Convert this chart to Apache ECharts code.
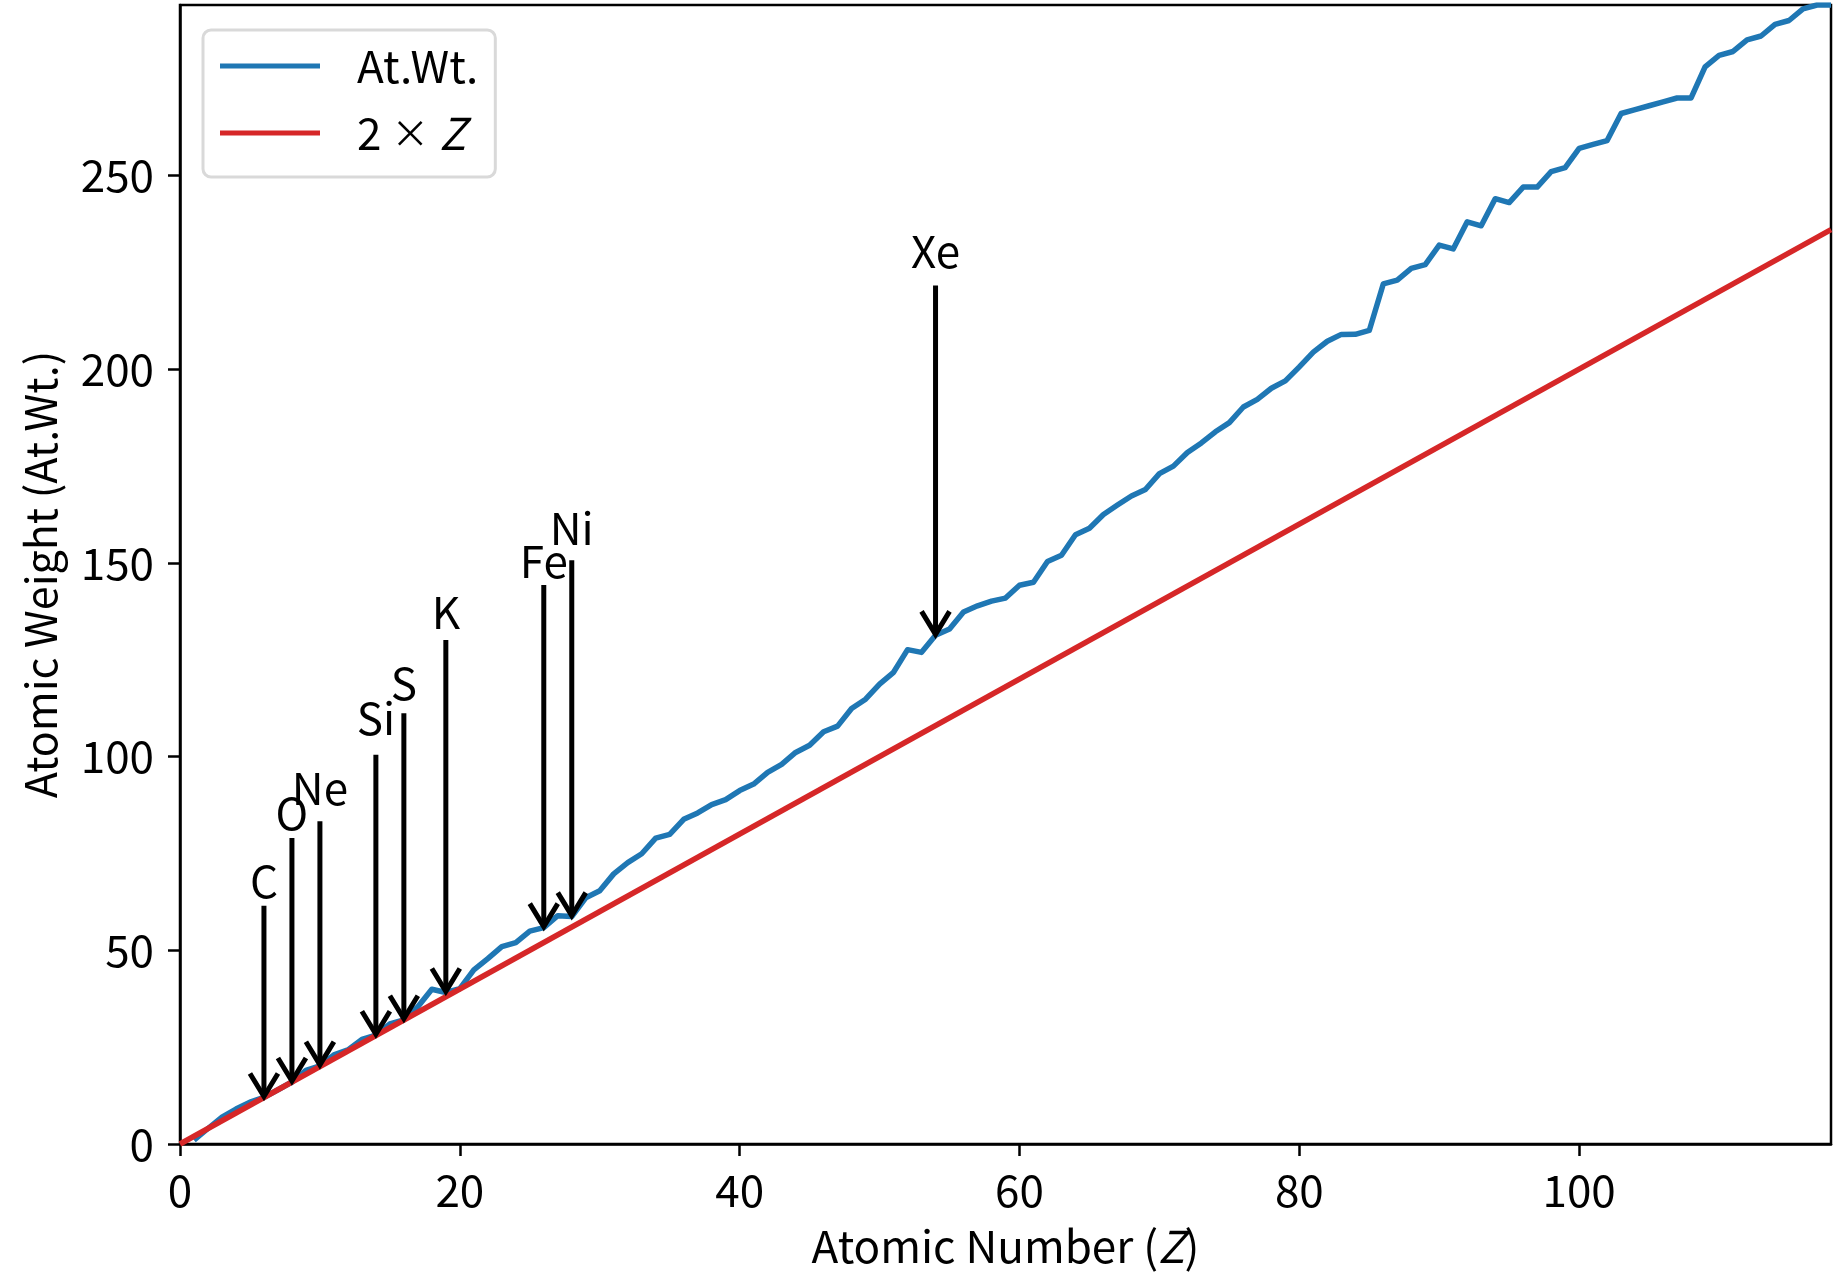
<!DOCTYPE html>
<html><head><meta charset="utf-8">
<script src="https://cdn.jsdelivr.net/npm/echarts@6/dist/echarts.min.js"></script>
<style>html,body{margin:0;padding:0;background:#fff}#c{width:1845px;height:1283px}</style>
</head><body><div id="c"></div>
<script>
// ---- data ----
const atomicNumbers = [1,2,3,4,5,6,7,8,9,10,11,12,13,14,15,16,17,18,19,20,21,22,23,24,25,26,27,28,29,30,31,32,33,34,35,36,37,38,39,40,41,42,43,44,45,46,47,48,49,50,51,52,53,54,55,56,57,58,59,60,61,62,63,64,65,66,67,68,69,70,71,72,73,74,75,76,77,78,79,80,81,82,83,84,85,86,87,88,89,90,91,92,93,94,95,96,97,98,99,100,101,102,103,104,105,106,107,108,109,110,111,112,113,114,115,116,117,118];
const atomicWeights = [1.008,4.0026,6.94,9.0122,10.81,12.011,14.007,15.999,18.998,20.180,22.990,24.305,26.982,28.085,30.974,32.06,35.45,39.948,39.098,40.078,44.956,47.867,50.942,51.996,54.938,55.845,58.933,58.693,63.546,65.38,69.723,72.630,74.922,78.971,79.904,83.798,85.468,87.62,88.906,91.224,92.906,95.95,98,101.07,102.91,106.42,107.87,112.41,114.82,118.71,121.76,127.60,126.90,131.29,132.91,137.33,138.91,140.12,140.91,144.24,145,150.36,151.96,157.25,158.93,162.50,164.93,167.26,168.93,173.05,174.97,178.49,180.95,183.84,186.21,190.23,192.22,195.08,196.97,200.59,204.38,207.2,208.98,209,210,222,223,226,227,232.04,231.04,238.03,237,244,243,247,247,251,252,257,258,259,266,267,268,269,270,270,278,281,282,285,286,289,290,293,294,294];
const twoZ_Z = [0, 118];
const twoZ_values = [0, 236];
const xTicks = [0,20,40,60,80,100];
const yTicks = [0,50,100,150,200,250];
const annotNames = ['C','O','Ne','Si','S','K','Fe','Ni','Xe'];
const annotZ = [6,8,10,14,16,19,26,28,54];
const annotTip = [12.011,15.999,20.180,28.085,32.06,39.098,55.845,58.693,131.29];
const annotTail = [61.5,79.0,83.3,100.5,111.2,130.1,144.3,150.7,221.6];
const annotText = [63.7,81.3,87.7,105.7,114.7,133.0,146.4,154.7,226.2];

// ---- chart ----
const FONT = '"Noto Sans CJK JP", "Noto Sans", sans-serif';
const FS = 44;
const chart = echarts.init(document.getElementById('c'), null, {renderer:'canvas'});
const blueData = atomicNumbers.map((z,i)=>[z, atomicWeights[i]]);
const redData = twoZ_Z.map((z,i)=>[z, twoZ_values[i]]);
const annData = annotZ.map((z,i)=>[z, annotTip[i], annotTail[i], annotText[i]]);

chart.setOption({
  animation: false,
  backgroundColor: '#fff',
  grid: {left:180, right:14, top:5, bottom:139, show:true, borderColor:'#000', borderWidth:2.5, backgroundColor:'transparent'},
  legend: {
    orient:'vertical', left:203, top:30,
    padding:[14,17,22,17],
    backgroundColor:'#fff', borderColor:'#d9d9d9', borderWidth:3, borderRadius:8,
    icon:'rect', itemWidth:100, itemHeight:5, itemGap:23,
    data:['At.Wt.','2 × Z'],
    formatter: function(n){ return n === '2 × Z' ? '2 {x|×} {i|Z}' : n; },
    textStyle:{fontFamily:FONT, fontSize:FS, color:'#000', lineHeight:44, padding:[0,0,0,32],
      rich:{
        i:{fontFamily:FONT, fontSize:FS, fontStyle:'italic', color:'#000', lineHeight:44, verticalAlign:'middle'},
        x:{fontFamily:FONT, fontSize:38, color:'#000', lineHeight:44, verticalAlign:'middle'}
      }}
  },
  xAxis: {
    type:'value', min:0, max:118, interval:20,
    name:'Atomic Number ({i|Z})', nameLocation:'middle', nameGap:80,
    nameTextStyle:{fontFamily:FONT, fontSize:FS, color:'#000', rich:{i:{fontFamily:FONT, fontSize:FS, fontStyle:'italic', color:'#000'}}},
    axisLine:{show:true, onZero:false, lineStyle:{color:'#000', width:2.5}},
    axisTick:{show:true, length:12, lineStyle:{color:'#000', width:2.5}, customValues:xTicks},
    axisLabel:{fontFamily:FONT, fontSize:FS, color:'#000', margin:24, customValues:xTicks},
    splitLine:{show:false}
  },
  yAxis: {
    type:'value', min:0, max:294, interval:50,
    name:'Atomic Weight (At.Wt.)', nameLocation:'middle', nameGap:118,
    nameTextStyle:{fontFamily:FONT, fontSize:43, color:'#000'},
    axisLine:{show:true, onZero:false, lineStyle:{color:'#000', width:2.5}},
    axisTick:{show:true, length:12, lineStyle:{color:'#000', width:2.5}, customValues:yTicks},
    axisLabel:{fontFamily:FONT, fontSize:FS, color:'#000', margin:26, customValues:yTicks},
    splitLine:{show:false}
  },
  series: [
    {name:'At.Wt.', type:'line', data:blueData, showSymbol:false, symbol:'none', color:'#1f77b4',
     lineStyle:{color:'#1f77b4', width:5.5, join:'round'}, z:2},
    {name:'2 × Z', type:'line', data:redData, showSymbol:false, symbol:'none', color:'#d62728',
     lineStyle:{color:'#d62728', width:5.5}, z:3},
    {name:'annotations', type:'custom', data:annData, z:5, silent:true,
     encode:{x:0, y:1},
     renderItem:function(params, api){
       const z = api.value(0);
       const tip = api.coord([z, api.value(1)]);
       const tail = api.coord([z, api.value(2)]);
       const txt = api.coord([z, api.value(3)]);
       return {type:'group', children:[
         {type:'line', shape:{x1:tail[0], y1:tail[1], x2:tip[0], y2:tip[1]-3}, style:{stroke:'#000', lineWidth:5}},
         {type:'polyline', shape:{points:[[tip[0]-14, tip[1]-24],[tip[0], tip[1]-1],[tip[0]+14, tip[1]-24]]},
          style:{stroke:'#000', fill:null, lineWidth:5, lineJoin:'miter', lineCap:'butt'}},
         {type:'text', x:txt[0], y:txt[1]+6, style:{text:annotNames[params.dataIndex], fill:'#000',
          fontFamily:FONT, fontSize:FS, align:'center', verticalAlign:'bottom'}}
       ]};
     }}
  ]
});
</script></body></html>
